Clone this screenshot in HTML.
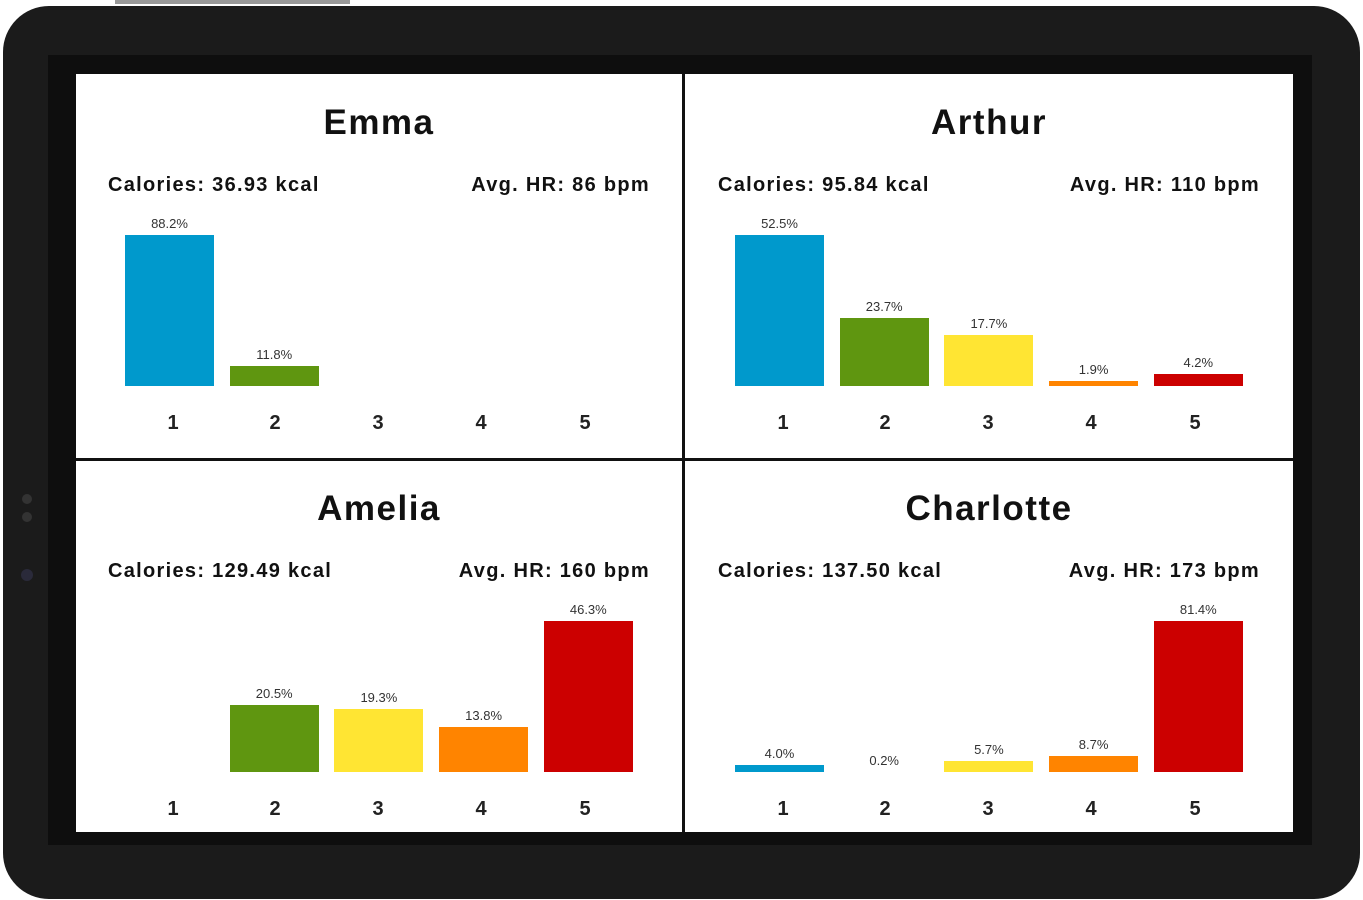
<!DOCTYPE html>
<html><head><meta charset="utf-8"><style>
body{margin:0;width:1363px;height:900px;background:#fff;position:relative;overflow:hidden;font-family:"Liberation Sans",sans-serif}
.abs{position:absolute}
.tab{left:3px;top:6px;width:1357px;height:893px;background:#1b1b1b;border-radius:46px}
.inner{left:48px;top:55px;width:1264px;height:790px;background:#0e0e0e}
.scr{left:76px;top:74px;width:1217px;height:758px;background:#fff}
.vl{left:682px;top:74px;width:3px;height:758px;background:#111}
.hl{left:76px;top:458px;width:1217px;height:3px;background:#111}
.t{font-weight:bold;font-size:35px;text-align:center;width:604px;color:#111;letter-spacing:1.5px}
.s{font-weight:bold;font-size:20px;color:#111;letter-spacing:1.3px}
.p{font-size:13px;color:#333;width:89px;text-align:center}
.n{font-weight:bold;font-size:20px;color:#222;width:40px;text-align:center}
</style></head><body>
<div class="abs" style="left:115px;top:0;width:235px;height:4px;background:#999"></div>
<div class="abs tab"></div>
<div class="abs inner"></div>
<div class="abs scr"></div>
<div class="abs vl"></div>
<div class="abs hl"></div>
<div class="abs" style="left:22px;top:494px;width:10px;height:10px;border-radius:5px;background:#333"></div>
<div class="abs" style="left:22px;top:512px;width:10px;height:10px;border-radius:5px;background:#333"></div>
<div class="abs" style="left:21px;top:569px;width:12px;height:12px;border-radius:6px;background:#2a2a3a"></div>
<div id="c"></div>
<script>
var P=[
{n:"Emma",cal:"36.93",hr:"86",v:[88.2,11.8,null,null,null],x:77,y:0},
{n:"Arthur",cal:"95.84",hr:"110",v:[52.5,23.7,17.7,1.9,4.2],x:687,y:0},
{n:"Amelia",cal:"129.49",hr:"160",v:[null,20.5,19.3,13.8,46.3],x:77,y:386},
{n:"Charlotte",cal:"137.50",hr:"173",v:[4.0,0.2,5.7,8.7,81.4],x:687,y:386}];
var C=["#0099cc","#5f9610","#ffe533","#ff8400","#cc0000"];
var NX=[173,275,378,481,585];
var h="";
P.forEach(function(p){
 var dx=p.x-77,dy=p.y;
 h+='<div class="abs t" style="left:'+p.x+'px;top:'+(103+dy)+'px">'+p.n+'</div>';
 h+='<div class="abs s" style="left:'+(108+dx)+'px;top:'+(174+dy)+'px">Calories: '+p.cal+' kcal</div>';
 h+='<div class="abs s" style="right:'+(1363-650-dx)+'px;top:'+(174+dy)+'px">Avg. HR: '+p.hr+' bpm</div>';
 var m=Math.max.apply(null,p.v.filter(function(a){return a!=null}));
 for(var i=0;i<5;i++){
  var bx=125+dx+i*104.7, base=386+dy;
  h+='<div class="abs n" style="left:'+(NX[i]+dx-20)+'px;top:'+(412+dy)+'px">'+(i+1)+'</div>';
  var v=p.v[i]; if(v==null)continue;
  var bh=Math.round(v/m*151);
  if(bh>0)h+='<div class="abs" style="left:'+bx+'px;top:'+(base-bh)+'px;width:89px;height:'+bh+'px;background:'+C[i]+'"></div>';
  var lt=base-bh-19; if(bh<3)lt=base-19;
  h+='<div class="abs p" style="left:'+bx+'px;top:'+lt+'px">'+v.toFixed(1)+'%</div>';
 }
});
document.getElementById("c").innerHTML=h;
</script>
</body></html>
